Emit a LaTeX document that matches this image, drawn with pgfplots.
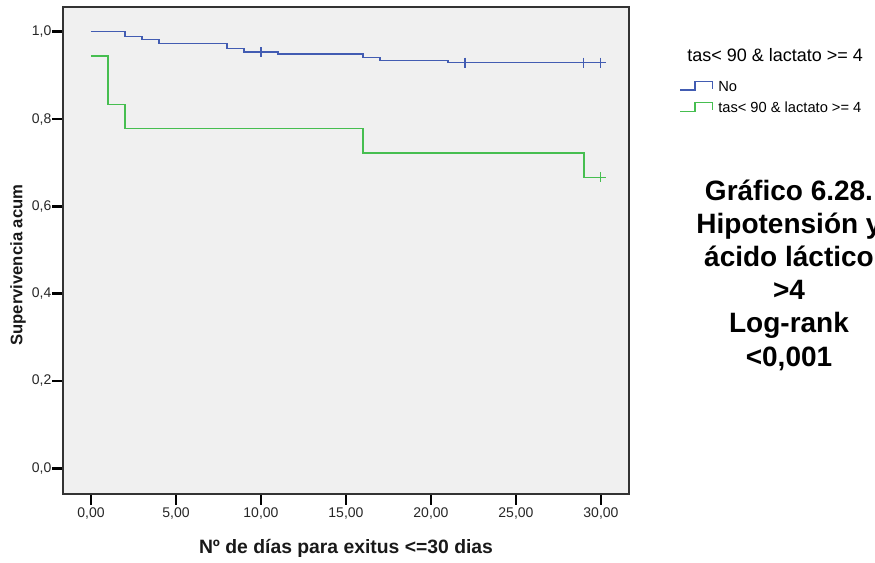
\documentclass[border=0pt]{standalone}
\usepackage{pgfplots}
\pgfplotsset{compat=1.18}
\usepackage{fontspec}
\setmainfont{Liberation Sans}
\definecolor{kmblue}{RGB}{66,92,178}
\definecolor{kmgreen}{RGB}{70,190,80}
\definecolor{plotbg}{RGB}{240,240,240}
\begin{document}
\begin{tikzpicture}
\path[use as bounding box] (0pt,0pt) rectangle (656.25pt,421.5pt);
\begin{axis}[
  at={(47.25pt,51pt)}, anchor=south west,
  scale only axis, width=424.5pt, height=365.25pt,
  xmin=-1.647, xmax=31.65, ymin=-0.059, ymax=1.0566,
  axis background/.style={fill=plotbg},
  axis line style={black!80, line width=0.8pt},
  tick align=outside, tick pos=left,
  major tick length=8pt,
  tick style={black, line width=2pt},
  xtick={0,5,10,15,20,25,30},
  xticklabels={{0,00},{5,00},{10,00},{15,00},{20,00},{25,00},{30,00}},
  ytick={0,0.2,0.4,0.6,0.8,1},
  yticklabels={{0,0},{0,2},{0,4},{0,6},{0,8},{1,0}},
  ticklabel style={font=\fontsize{10.5}{12}\selectfont, black!85},
  yticklabel style={inner sep=0.5pt},
  xticklabel style={inner sep=2pt},
  xlabel={Nº de días para exitus <=30 dias},
  ylabel={Supervivencia acum},
  xlabel style={font=\fontsize{14.5}{17}\selectfont\bfseries, black!90, at={(axis description cs:0.5,-0.111)}, anchor=center},
  ylabel style={font=\fontsize{12.5}{15}\selectfont\bfseries, black!90, at={(axis description cs:-0.0795,0.47)}, anchor=center},
]
\addplot[const plot, kmblue, line width=1pt] coordinates {
  (0,1.0) (2,0.9886) (3,0.9817) (4,0.9734) (8,0.962) (9,0.9535)
  (11,0.949) (16,0.9405) (17,0.9345) (21,0.929) (30,0.929)};
\addplot[const plot, kmgreen, line width=1pt] coordinates {
  (0,0.9444) (1,0.8333) (2,0.7778) (16,0.7222) (29,0.6667) (30,0.6667)};
\addplot[only marks, mark=+, mark size=3.75pt, kmblue, mark options={line width=0.8pt}] coordinates {
  (10,0.9535) (22,0.929) (29,0.929) (30,0.929)};
\addplot[only marks, mark=+, mark size=3.75pt, kmgreen, mark options={line width=0.8pt}] coordinates {
  (30,0.6667)};
\end{axis}
% legend
\node[anchor=base west, inner sep=0pt, font=\fontsize{13.5}{15}\selectfont] at (515.25pt,375.2pt) {tas< 90 \& lactato >= 4};
\draw[kmblue, line width=0.8pt] (510pt,354pt) -- (521.25pt,354pt) -- (521.25pt,360.2pt) -- (534.2pt,360.2pt) -- (534.2pt,355pt);
\draw[kmgreen, line width=0.8pt] (510pt,337.7pt) -- (521.25pt,337.7pt) -- (521.25pt,344.5pt) -- (534.2pt,344.5pt) -- (534.2pt,338.7pt);
\node[anchor=base west, inner sep=0pt, font=\fontsize{11}{13}\selectfont] at (538.5pt,352.7pt) {No};
\node[anchor=base west, inner sep=0pt, font=\fontsize{11}{13}\selectfont] at (538.5pt,337pt) {tas< 90 \& lactato >= 4};
% side text
\begin{scope}[every node/.style={anchor=base, inner sep=0pt, font=\fontsize{21}{25}\selectfont\bfseries}]
\node at (591.75pt,271pt) {Gráfico 6.28.};
\node at (591.75pt,246.2pt) {Hipotensión y};
\node at (591.75pt,221.4pt) {ácido láctico};
\node at (591.75pt,196.6pt) {>4};
\node at (591.75pt,171.8pt) {Log-rank};
\node at (591.75pt,147pt) {<0,001};
\end{scope}
\end{tikzpicture}
\end{document}
